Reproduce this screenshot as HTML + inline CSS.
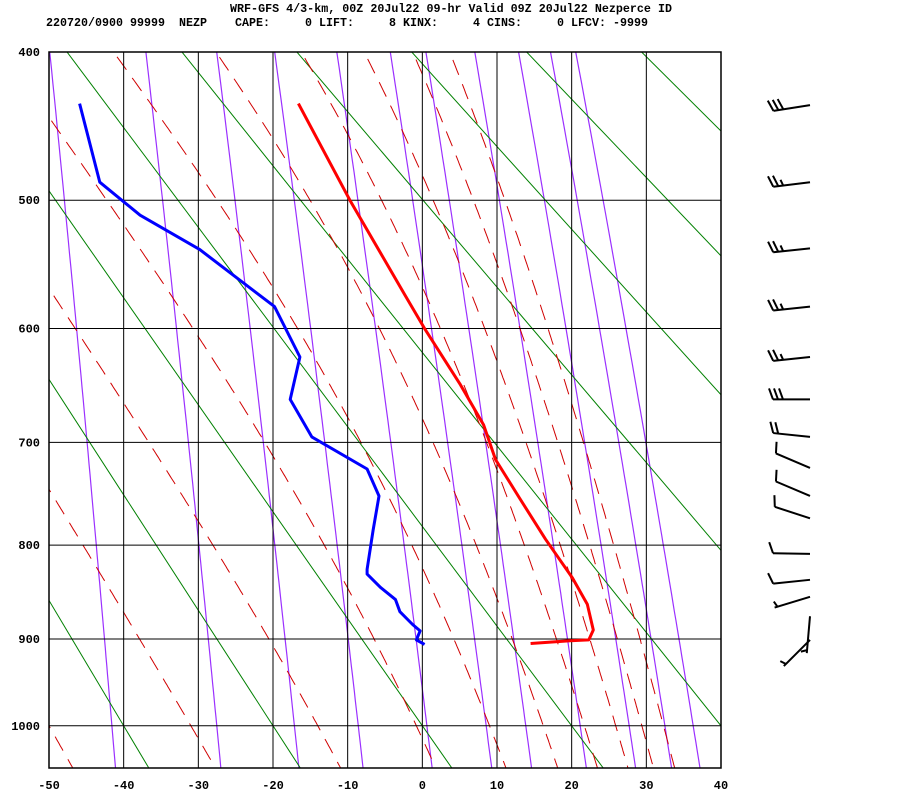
<!DOCTYPE html>
<html><head><meta charset="utf-8">
<style>
html,body{margin:0;padding:0;background:#fff;}
svg{display:block;}
text{font-family:"Liberation Mono",monospace;font-weight:bold;fill:#000;}
</style></head>
<body>
<svg id="chart" width="900" height="800" viewBox="0 0 900 800" xmlns="http://www.w3.org/2000/svg">
  <defs><clipPath id="plotclip"><rect x="49" y="52" width="672" height="716"/></clipPath></defs>
  <rect x="0" y="0" width="900" height="800" fill="#fff"/>
  <text x="230" y="12" font-size="12" textLength="442" lengthAdjust="spacingAndGlyphs">WRF-GFS 4/3-km, 00Z 20Jul22 09-hr Valid 09Z 20Jul22 Nezperce ID</text>
  <text x="46" y="26" font-size="12" textLength="602" lengthAdjust="spacingAndGlyphs" xml:space="preserve" style="white-space:pre">220720/0900 99999  NEZP    CAPE:     0 LIFT:     8 KINX:     4 CINS:     0 LFCV: -9999</text>
  <g id="bg" clip-path="url(#plotclip)"></g>
  <g id="grid"></g>
  <g id="traces" clip-path="url(#plotclip)"></g>
  <g id="axes"></g>
  <g id="barbs"></g>
</svg>
<script>
// ---- data ----
const tempP = [433,500,573,601,648,684,716,754,794,834,862,890,901,902,905];
const tempT = [-16.6,-9.7,-2.3,0.4,5.1,8.2,9.8,13.1,16.5,20.1,22.1,22.9,22.3,19.8,14.5];
const dewP = [433,487,511,537,582,624,661,695,725,751,785,825,830,844,857,870,884,891,901,906];
const dewT = [-45.9,-43.2,-37.8,-29.8,-19.8,-16.4,-17.7,-14.8,-7.4,-5.8,-6.6,-7.4,-7.4,-5.6,-3.6,-3.0,-1.3,-0.3,-0.8,0.3];
const barbP = [434,487,536,582,624,661,695,724,751,773,809,836,854,875,901];
const barbDir = [261,263,264,264,264,270,276,293,293,288,271,264,253,185,225];
const barbSpd = [30,25,25,25,25,30,20,10,10,10,10,10,5,5,5];
const tempTicks = [-50,-40,-30,-20,-10,0,10,20,30,40];
const presTicks = [400,500,600,700,800,900,1000];
const thetaList = [233.15,253.15,273.15,293.15,313.15,333.15,353.15,373.15,393.15,413.15,433.15];
const mixList = [0.1,0.4,1,2,4,7,10,16,24,32,40];
const moistStart = [-50,-31,-14,-0.8,9.0,16.2,21.7,25.9,29.4,32.3];

const NS = "http://www.w3.org/2000/svg";
const K = 0.286, PTOP = 400, PBOT = 1051;
function X(t){ return 49 + (t + 50) * (672/90); }
function Y(p){ return 52 + (Math.pow(p,K) - Math.pow(400,K)) * 405.3; }
function mk(tag, attrs, parent){
  const e = document.createElementNS(NS, tag);
  for (const k in attrs) e.setAttribute(k, attrs[k]);
  parent.appendChild(e); return e;
}
function pathFrom(pts){ return pts.map((q,i)=>(i?"L":"M")+q[0].toFixed(1)+","+q[1].toFixed(1)).join(""); }
const bg = document.getElementById('bg'), grid = document.getElementById('grid'),
      traces = document.getElementById('traces'), axes = document.getElementById('axes'),
      barbs = document.getElementById('barbs');

function es(t){ return 6.112*Math.exp(17.67*t/(t+243.5)); }

// mixing ratio lines
mixList.forEach(w=>{
  const pts=[];
  for(let p=PTOP-10;p<=PBOT+10;p+=10){
    const e = w*p/(622+w);
    const l = Math.log(e/6.112);
    const t = 243.5*l/(17.67-l);
    pts.push([X(t),Y(p)]);
  }
  const el = mk('path',{d:pathFrom(pts),fill:'none',stroke:'#9b30ff','stroke-width':1.2},bg);
  
  
});
// dry adiabats
thetaList.forEach(th=>{
  const pts=[];
  [PTOP-10,PBOT+10].forEach(p=>{ pts.push([X(th*Math.pow(p/1000,K)-273.15),Y(p)]); });
  const el = mk('path',{d:pathFrom(pts),fill:'none',stroke:'#008000','stroke-width':1},bg);
  
  
});
// moist adiabats
function moistRate(T,p){
  const Rd=287.04,cp=1005.7,Lv=2.501e6,eps=0.622;
  const e=es(T-273.15); const rs=eps*e/(p-e);
  return (Rd*T+Lv*rs)/(p*(cp+Lv*Lv*rs*eps/(Rd*T*T)));
}
moistStart.forEach(t0=>{
  const up=[],dn=[];
  let T=t0+273.15;
  for(let p=1000;p>=PTOP-10;p-=2){ up.push([X(T-273.15),Y(p)]); T-=moistRate(T,p)*2; }
  T=t0+273.15;
  for(let p=1000;p<=PBOT+10;p+=2){ dn.push([X(T-273.15),Y(p)]); T+=moistRate(T,p)*2; }
  const pts = up.reverse().concat(dn.slice(1));
  const el = mk('path',{d:pathFrom(pts),fill:'none',stroke:'#d00000','stroke-width':1,'stroke-dasharray':'16 10'},bg);
  
  
});

// grid
tempTicks.forEach(t=>{
  const el = mk('line',{x1:X(t),x2:X(t),y1:52,y2:768,stroke:'#000','stroke-width':1},grid);
  
  
  const lb = mk('text',{x:X(t),y:789,'font-size':12,'text-anchor':'middle'},axes);
  lb.textContent = String(t);
  
  
});
presTicks.forEach(p=>{
  const el = mk('line',{x1:49,x2:721,y1:Y(p),y2:Y(p),stroke:'#000','stroke-width':1},grid);
  
  
  const lb = mk('text',{x:40,y:Y(p)+4,'font-size':12,'text-anchor':'end'},axes);
  lb.textContent = String(p);
  
  
});
const frame = mk('rect',{x:49,y:52,width:672,height:716,fill:'none',stroke:'#000','stroke-width':1.5},grid);



// traces
const dp = tempP.map((p,i)=>[X(tempT[i]),Y(p)]);
const tl = mk('path',{d:pathFrom(dp),fill:'none',stroke:'#ff0000','stroke-width':3,'stroke-linejoin':'round'},traces);


const dd = dewP.map((p,i)=>[X(dewT[i]),Y(p)]);
const dl = mk('path',{d:pathFrom(dd),fill:'none',stroke:'#0000ff','stroke-width':3,'stroke-linejoin':'round'},traces);



// wind barbs
barbP.forEach((p,i)=>{
  const bx=810, by=Y(p);
  const d=barbDir[i]*Math.PI/180;
  const ux=Math.sin(d), uy=-Math.cos(d);
  const px=-uy, py=ux;
  const L=37;
  const g = mk('g',{},barbs);
  
  
  const ex=bx+ux*L, ey=by+uy*L;
  mk('line',{x1:bx,y1:by,x2:ex,y2:ey,stroke:'#000','stroke-width':2},g);
  let s=barbSpd[i], pos=0;
  const full=Math.floor(s/10); s-=full*10;
  for(let k=0;k<full;k++){
    const sx=ex-ux*pos, sy=ey-uy*pos;
    mk('line',{x1:sx,y1:sy,x2:sx+px*11+ux*4,y2:sy+py*11+uy*4,stroke:'#000','stroke-width':2},g);
    pos+=5;
  }
  if(s>=5){
    if(full===0) pos=3;
    const sx=ex-ux*pos, sy=ey-uy*pos;
    mk('line',{x1:sx,y1:sy,x2:sx+px*6+ux*2,y2:sy+py*6+uy*2,stroke:'#000','stroke-width':2},g);
  }
});
</script>
</body></html>
